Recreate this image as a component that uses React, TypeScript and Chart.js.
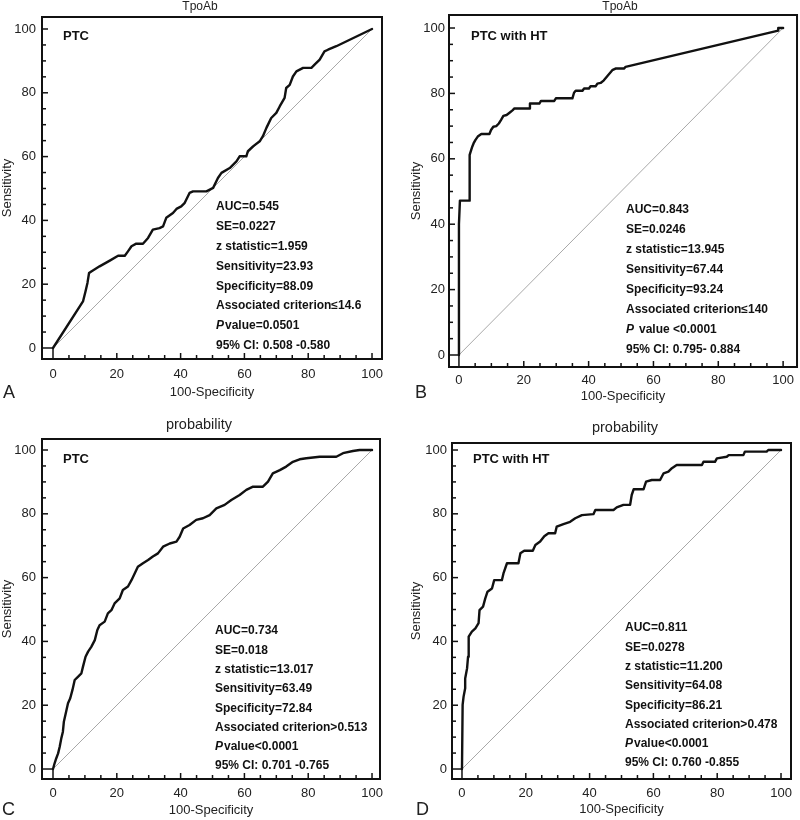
import React, { useEffect, useRef } from "react";
import { Chart, registerables } from "chart.js";

Chart.register(...registerables);

// ---------- data ----------
const tickValues = [0, 5, 10, 15, 20, 25, 30, 35, 40, 45, 50, 55, 60, 65, 70, 75, 80, 85, 90, 95, 100];
const majorTicks = [0, 20, 40, 60, 80, 100];
const diagonalX = [0, 100];
const diagonalY = [0, 100];

const rocA_x = [0, 9.4, 10.2, 10.8, 11.3, 12.0, 14.6, 17.8, 20.4, 22.5, 23.5, 24.6, 26.1, 28.2, 29.8, 31.3, 33.4, 34.5, 35.5, 37.6, 38.7, 40.2, 41.3, 42.8, 43.9, 48.1, 50.2, 51.7, 52.8, 55.4, 57.5, 58.5, 60.6, 61.1, 62.7, 64.8, 65.8, 66.9, 68.4, 70.0, 71.1, 72.6, 73.1, 74.2, 75.2, 76.3, 78.4, 81.0, 82.0, 83.6, 85.1, 86.2, 88.8, 100];
const rocA_y = [0, 14.6, 17.8, 20.4, 23.5, 24.0, 25.6, 27.4, 28.9, 28.9, 30.3, 31.9, 32.7, 32.7, 34.5, 37.1, 37.6, 38.1, 40.8, 42.3, 43.6, 44.4, 45.5, 48.6, 49.1, 49.1, 50.2, 53.3, 54.9, 56.4, 58.5, 60.1, 60.1, 61.7, 63.2, 64.8, 66.4, 69.0, 72.1, 73.7, 75.8, 78.4, 81.5, 82.5, 85.1, 86.7, 87.8, 87.8, 88.8, 90.4, 93.0, 93.5, 94.6, 100];

const rocB_x = [0, 0, 0.3, 3.3, 3.3, 4.1, 4.5, 5.1, 5.8, 6.9, 9.4, 9.9, 10.6, 11.5, 12.3, 13.0, 13.7, 14.7, 15.6, 16.6, 17.1, 21.7, 21.9, 24.8, 25.3, 29.4, 29.9, 35.0, 35.5, 36.0, 38.1, 38.6, 40.1, 40.6, 42.2, 42.7, 43.7, 44.7, 45.8, 47.3, 48.3, 50.9, 51.4, 98.5, 98.5, 100];
const rocB_y = [0, 40, 47.2, 47.2, 61.2, 63.7, 64.7, 65.8, 66.8, 67.6, 67.6, 68.8, 69.8, 70.0, 70.8, 71.9, 73.1, 73.4, 74.1, 74.9, 75.4, 75.4, 76.9, 76.9, 77.7, 77.7, 78.5, 78.5, 80.2, 80.8, 80.8, 81.5, 81.5, 82.2, 82.2, 83.0, 83.2, 84.0, 85.3, 87.1, 87.6, 87.6, 88.1, 99.2, 100, 100];

const rocC_x = [0, 0.5, 1.0, 1.6, 2.1, 2.6, 3.1, 3.4, 4.0, 4.7, 5.4, 6.1, 6.8, 7.8, 8.9, 9.4, 10.2, 11.0, 12.0, 13.1, 13.9, 14.6, 16.2, 17.2, 18.3, 19.3, 20.9, 21.9, 23.5, 24.6, 25.6, 26.6, 28.2, 29.8, 31.3, 32.9, 34.5, 36.6, 38.7, 39.7, 40.8, 42.8, 44.9, 47.0, 49.1, 51.2, 53.8, 55.9, 58.5, 60.6, 62.7, 65.8, 67.4, 68.9, 71.1, 73.1, 75.2, 77.3, 79.4, 83.6, 88.8, 90.9, 94.0, 96.1, 100];
const rocC_y = [0, 1.8, 3.3, 4.9, 7.0, 9.6, 11.7, 14.8, 17.5, 20.6, 22.2, 24.8, 27.9, 28.9, 30.0, 32.1, 35.2, 36.8, 38.3, 40.4, 43.6, 45.1, 46.2, 48.8, 49.8, 51.9, 53.5, 56.1, 57.2, 59.2, 61.3, 63.4, 64.5, 65.5, 66.6, 67.6, 69.7, 70.7, 71.3, 72.8, 75.4, 76.5, 78.1, 78.6, 79.6, 81.7, 82.8, 84.3, 85.9, 87.5, 88.5, 88.5, 90.1, 92.7, 93.7, 94.8, 96.3, 97.1, 97.4, 97.9, 97.9, 99.0, 99.7, 100, 100];

const rocD_x = [0, 0.2, 0.5, 1.0, 1.0, 1.6, 1.9, 2.1, 3.1, 4.2, 5.2, 5.5, 6.6, 7.3, 8.0, 9.4, 10.1, 12.5, 13.0, 14.1, 17.7, 18.3, 19.5, 22.2, 23.0, 24.5, 25.8, 27.1, 29.2, 29.7, 31.8, 33.9, 35.5, 37.6, 41.2, 41.8, 47.5, 48.5, 50.6, 52.7, 53.2, 53.8, 56.9, 57.7, 59.5, 62.1, 63.2, 64.7, 65.8, 67.3, 75.2, 75.7, 79.3, 79.9, 83.0, 83.6, 88.2, 88.7, 95.5, 96.0, 100];
const rocD_y = [0, 20.1, 22.7, 25.3, 28.4, 31.6, 35.2, 41.5, 43.1, 44.1, 45.7, 49.8, 50.9, 53.5, 55.6, 56.6, 59.2, 59.2, 61.3, 64.5, 64.5, 67.6, 68.4, 68.4, 70.2, 71.3, 73.0, 73.9, 73.9, 76.0, 76.8, 77.5, 78.6, 79.6, 79.9, 81.2, 81.2, 82.0, 82.8, 82.8, 85.9, 87.7, 87.7, 90.1, 90.6, 90.6, 92.7, 93.2, 94.3, 95.3, 95.3, 96.3, 96.3, 97.4, 97.9, 98.4, 98.4, 99.5, 99.5, 100, 100];

const statsA = ["AUC=0.545", "SE=0.0227", "z statistic=1.959", "Sensitivity=23.93", "Specificity=88.09", "Associated criterion\u226414.6", "P value=0.0501", "95% CI: 0.508 -0.580"];
const statsB = ["AUC=0.843", "SE=0.0246", "z statistic=13.945", "Sensitivity=67.44", "Specificity=93.24", "Associated criterion\u2264140", "P value <0.0001", "95% CI: 0.795- 0.884"];
const statsC = ["AUC=0.734", "SE=0.018", "z statistic=13.017", "Sensitivity=63.49", "Specificity=72.84", "Associated criterion>0.513", "P value<0.0001", "95% CI: 0.701 -0.765"];
const statsD = ["AUC=0.811", "SE=0.0278", "z statistic=11.200", "Sensitivity=64.08", "Specificity=86.21", "Associated criterion>0.478", "P value<0.0001", "95% CI: 0.760 -0.855"];

const xAxisTitle = "100-Specificity";
const yAxisTitle = "Sensitivity";

// ---------- layout / style ----------
type Panel = {
  xs: number[]; ys: number[];
  xMin: number; xMax: number; yMin: number; yMax: number;
  box: { left: number; top: number; right: number; bottom: number };
  title: string; titleX: number; titleY: number; titleSize: number;
  group: string; groupX: number; groupY: number;
  letter: string; letterX: number; letterY: number;
  stats: string[]; statsX: number; statsY: number; statsGap: number; pGap: number;
  xTitlePad: number; yTitlePad: number; xTickPad: number; yTickPad: number;
  left: number; top: number;
};

const panels: Panel[] = [
  {
    xs: rocA_x, ys: rocA_y, xMin: -3.45, xMax: 103.13, yMin: -3.45, yMax: 103.76,
    box: { left: 42, top: 17, right: 382, bottom: 359 },
    title: "TpoAb", titleX: 200, titleY: 7, titleSize: 12,
    group: "PTC", groupX: 63, groupY: 36,
    letter: "A", letterX: 3, letterY: 393,
    stats: statsA, statsX: 216, statsY: 207, statsGap: 19.8, pGap: 1,
    xTitlePad: 10, yTitlePad: 0, xTickPad: 8, yTickPad: 6,
    left: 0, top: 0,
  },
  {
    xs: rocB_x, ys: rocB_y, xMin: -3.07, xMax: 104.29, yMin: -3.67, yMax: 103.98,
    box: { left: 49, top: 15, right: 399, bottom: 367 },
    title: "TpoAb", titleX: 220, titleY: 7, titleSize: 12,
    group: "PTC with HT", groupX: 71, groupY: 36,
    letter: "B", letterX: 15, letterY: 393,
    stats: statsB, statsX: 226, statsY: 210, statsGap: 20, pGap: 5,
    xTitlePad: 6, yTitlePad: 9, xTickPad: 6, yTickPad: 4,
    left: 400, top: 0,
  },
  {
    xs: rocC_x, ys: rocC_y, xMin: -3.45, xMax: 102.5, yMin: -3.13, yMax: 103.45,
    box: { left: 42, top: 29, right: 380, bottom: 369 },
    title: "probability", titleX: 199, titleY: 15, titleSize: 14.5,
    group: "PTC", groupX: 63, groupY: 49,
    letter: "C", letterX: 2, letterY: 400,
    stats: statsC, statsX: 215, statsY: 221, statsGap: 19.3, pGap: 1,
    xTitlePad: 2, yTitlePad: 0, xTickPad: 7, yTickPad: 6,
    left: 0, top: 410,
  },
  {
    xs: rocD_x, ys: rocD_y, xMin: -3.13, xMax: 103.13, yMin: -3.13, yMax: 102.2,
    box: { left: 52, top: 33, right: 391, bottom: 369 },
    title: "probability", titleX: 225, titleY: 18, titleSize: 14.5,
    group: "PTC with HT", groupX: 73, groupY: 49,
    letter: "D", letterX: 16, letterY: 400,
    stats: statsD, statsX: 225, statsY: 218, statsGap: 19.3, pGap: 1,
    xTitlePad: 3, yTitlePad: 9, xTickPad: 7, yTickPad: 5,
    left: 400, top: 410,
  },
];

const W = 400;
const H = 410;
const SANS = "'Liberation Sans', Arial, sans-serif";

function makeDecoPlugin(p: Panel) {
  return {
    id: "rocDeco",
    afterDraw(chart: any) {
      const ctx: CanvasRenderingContext2D = chart.ctx;
      const { left, top, right, bottom } = chart.chartArea;
      const sx = chart.scales.x;
      const sy = chart.scales.y;
      ctx.save();
      const line = (x1: number, y1: number, x2: number, y2: number) => {
        ctx.beginPath();
        ctx.moveTo(x1, y1);
        ctx.lineTo(x2, y2);
        ctx.stroke();
      };
      // frame
      ctx.strokeStyle = "#111";
      ctx.lineWidth = 2;
      ctx.strokeRect(left, top, right - left, bottom - top);
      // inward ticks
      ctx.lineWidth = 1.5;
      for (const v of tickValues) {
        if (v === 0) continue;
        const len = v % 20 === 0 ? 6 : 4;
        const px = sx.getPixelForValue(v);
        line(px, bottom, px, bottom - len);
        const py = sy.getPixelForValue(v);
        line(left, py, left + len, py);
      }
      // zero lines to the origin
      const x0 = sx.getPixelForValue(0);
      const y0 = sy.getPixelForValue(0);
      line(left, y0, x0, y0);
      line(x0, bottom, x0, y0);

      // title
      ctx.fillStyle = "#222";
      ctx.textAlign = "center";
      ctx.textBaseline = "middle";
      ctx.font = `${p.titleSize}px ${SANS}`;
      ctx.fillText(p.title, p.titleX, p.titleY);

      // panel letter
      ctx.textAlign = "left";
      ctx.font = `18px ${SANS}`;
      ctx.fillText(p.letter, p.letterX, p.letterY);

      // group label
      ctx.fillStyle = "#111";
      ctx.font = `bold 13px ${SANS}`;
      ctx.fillText(p.group, p.groupX, p.groupY);

      // stats
      p.stats.forEach((s, i) => {
        const y = p.statsY + i * p.statsGap;
        if (s.startsWith("P ")) {
          ctx.font = `italic bold 12px ${SANS}`;
          ctx.fillText("P", p.statsX, y);
          const w = ctx.measureText("P").width;
          ctx.font = `bold 12px ${SANS}`;
          ctx.fillText(s.slice(2), p.statsX + w + p.pGap, y);
        } else {
          ctx.font = `bold 12px ${SANS}`;
          ctx.fillText(s, p.statsX, y);
        }
      });
      ctx.restore();
    },
  };
}

function RocPanel({ p }: { p: Panel }) {
  const ref = useRef<HTMLCanvasElement | null>(null);
  useEffect(() => {
    if (!ref.current) return;
    const n = Math.min(p.xs.length, p.ys.length);
    const curve = [] as { x: number; y: number }[];
    for (let i = 0; i < n; i++) curve.push({ x: p.xs[i], y: p.ys[i] });
    const diag = diagonalX.map((x, i) => ({ x, y: diagonalY[i] }));
    const tickFont = { family: SANS, size: 13 };
    const chart = new Chart(ref.current, {
      type: "scatter",
      data: {
        datasets: [
          {
            data: curve,
            showLine: true,
            borderColor: "#111",
            borderWidth: 2.4,
            pointRadius: 0,
            pointHoverRadius: 0,
            tension: 0,
            borderJoinStyle: "round",
            borderCapStyle: "round",
          } as any,
          {
            data: diag,
            showLine: true,
            borderColor: "#a8a8a8",
            borderWidth: 1,
            pointRadius: 0,
            pointHoverRadius: 0,
          } as any,
        ],
      },
      options: {
        responsive: false,
        animation: false,
        devicePixelRatio: 1,
        layout: {
          padding: { left: 0, top: p.box.top, right: W - p.box.right, bottom: 0 },
        },
        plugins: {
          legend: { display: false },
          tooltip: { enabled: false },
          title: { display: false },
        },
        scales: {
          x: {
            type: "linear",
            min: p.xMin,
            max: p.xMax,
            afterBuildTicks: (s: any) => {
              s.ticks = majorTicks.map((v) => ({ value: v }));
            },
            afterFit: (s: any) => {
              s.height = H - p.box.bottom;
            },
            grid: { display: false, drawTicks: false },
            border: { display: false },
            ticks: { font: tickFont, color: "#222", padding: p.xTickPad, maxRotation: 0 },
            title: {
              display: true,
              text: xAxisTitle,
              font: { family: SANS, size: 13 },
              color: "#222",
              padding: { top: 0, bottom: p.xTitlePad },
            },
          },
          y: {
            type: "linear",
            min: p.yMin,
            max: p.yMax,
            afterBuildTicks: (s: any) => {
              s.ticks = majorTicks.map((v) => ({ value: v }));
            },
            afterFit: (s: any) => {
              s.width = p.box.left;
            },
            grid: { display: false, drawTicks: false },
            border: { display: false },
            ticks: { font: tickFont, color: "#222", padding: p.yTickPad },
            title: {
              display: true,
              text: yAxisTitle,
              font: { family: SANS, size: 13 },
              color: "#222",
              padding: { top: p.yTitlePad, bottom: 0 },
            },
          },
        },
      } as any,
      plugins: [makeDecoPlugin(p)],
    });
    return () => chart.destroy();
  }, [p]);
  return (
    <div style={{ position: "absolute", left: p.left, top: p.top, width: W, height: H }}>
      <canvas ref={ref} width={W} height={H} style={{ display: "block", width: W, height: H }} />
    </div>
  );
}

export default function App() {
  return (
    <div style={{ position: "absolute", left: 0, top: 0, width: 800, height: 820, background: "#fff", overflow: "hidden" }}>
      {panels.map((p, i) => (
        <RocPanel key={i} p={p} />
      ))}
    </div>
  );
}
